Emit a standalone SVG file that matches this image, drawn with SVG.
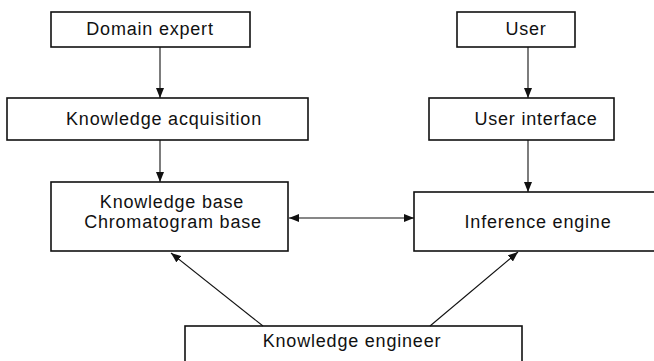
<svg xmlns="http://www.w3.org/2000/svg" width="654" height="361" viewBox="0 0 654 361">
<defs>
<style>
.box{fill:#fff;stroke:#111;stroke-width:1.6}
.t{font-family:"Liberation Sans",Arial,sans-serif;font-size:18px;letter-spacing:0.8px;fill:#111;text-anchor:middle}
.c{stroke:#111;stroke-width:1.1;fill:none}
</style>
<marker id="ah" viewBox="0 0 10 8" refX="10" refY="4" markerWidth="10" markerHeight="8" markerUnits="userSpaceOnUse" orient="auto-start-reverse">
<path d="M0,0 L10,4 L0,8 Z" fill="#111"/>
</marker>
</defs>
<rect width="654" height="361" fill="#fff"/>
<g id="domain-expert">
<rect class="box" x="51" y="12" width="199" height="35"/>
<text class="t" x="150" y="35">Domain expert</text>
</g>
<g id="knowledge-acquisition">
<rect class="box" x="7" y="98" width="301" height="42"/>
<text class="t" x="164" y="125">Knowledge acquisition</text>
</g>
<g id="knowledge-base">
<rect class="box" x="51" y="182" width="237" height="69"/>
<text class="t" x="172" y="208">Knowledge base</text>
<text class="t" x="173" y="228">Chromatogram base</text>
</g>
<g id="user">
<rect class="box" x="457" y="12" width="118" height="35"/>
<text class="t" x="526" y="35">User</text>
</g>
<g id="user-interface">
<rect class="box" x="429" y="98" width="185" height="42"/>
<text class="t" x="536" y="125">User interface</text>
</g>
<g id="inference-engine">
<rect class="box" x="414" y="192" width="250" height="59"/>
<text class="t" x="538" y="228">Inference engine</text>
</g>
<g id="knowledge-engineer">
<rect class="box" x="185" y="326" width="337" height="45"/>
<text class="t" x="352" y="347">Knowledge engineer</text>
</g>
<g id="connectors">
<line class="c" x1="160" y1="47" x2="160" y2="98" marker-end="url(#ah)"/>
<line class="c" x1="160" y1="140" x2="160" y2="182" marker-end="url(#ah)"/>
<line class="c" x1="528" y1="47" x2="528" y2="98" marker-end="url(#ah)"/>
<line class="c" x1="528" y1="140" x2="528" y2="192" marker-end="url(#ah)"/>
<line class="c" x1="289" y1="218" x2="414" y2="218" marker-start="url(#ah)" marker-end="url(#ah)"/>
<line class="c" x1="263" y1="326" x2="171" y2="253" marker-end="url(#ah)"/>
<line class="c" x1="430" y1="326" x2="518" y2="252" marker-end="url(#ah)"/>
</g>
</svg>
